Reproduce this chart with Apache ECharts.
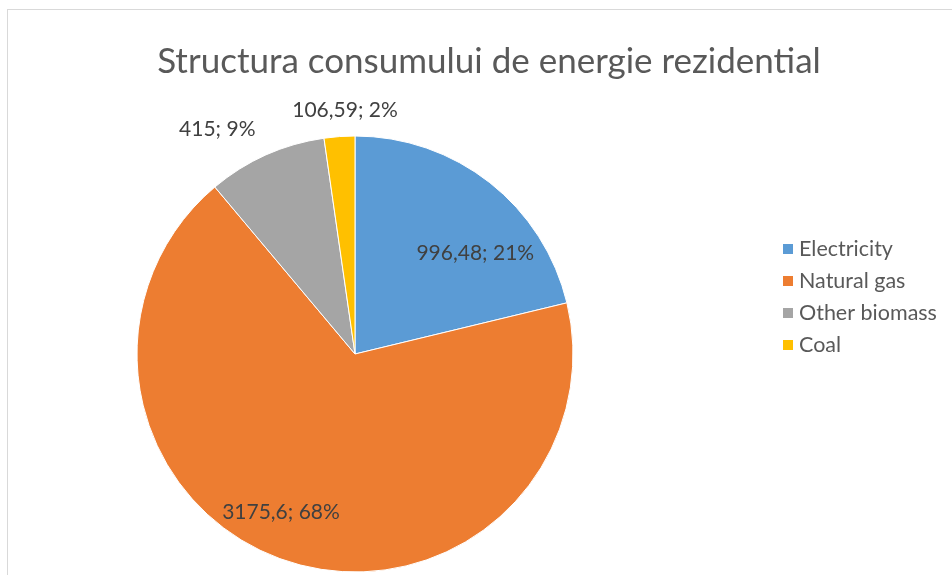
<!DOCTYPE html>
<html lang="en">
<head>
    <meta charset="UTF-8">
    <title>Structura consumului de energie rezidential</title>
    <script src="https://cdn.jsdelivr.net/npm/echarts@6/dist/echarts.min.js"></script>
    <style>
        body { margin: 0; background: #fff; }
        #frame { position: absolute; left: 7px; top: 9px; width: 1000px; height: 700px; border: 1px solid #d9d9d9; box-sizing: border-box; }
        #main { position: absolute; left: 0; top: 0; width: 952px; height: 575px; }
    </style>
</head>
<body>
    <div id="frame"></div>
    <div id="main"></div>
    <script type="text/javascript">
        var categories = ['Electricity', 'Natural gas', 'Other biomass', 'Coal'];
        var values = [996.48, 3175.6, 415, 106.59];
        var colors = ['#5B9BD5', '#ED7D31', '#A5A5A5', '#FFC000'];
        // nudges so labels sit where Excel put them
        var labelOffsets = [[51, -13], [-39, 52], [-92, -123], [-2, -132]];

        var myChart = echarts.init(document.getElementById('main'));
        var font = 'Lato, "Open Sans", sans-serif';

        var pieData = categories.map(function (name, i) {
            return {
                name: name,
                value: values[i],
                itemStyle: { color: colors[i] },
                label: { offset: labelOffsets[i] }
            };
        });

        var option = {
            animation: false,
            title: {
                text: 'Structura consumului de energie rezidential',
                left: 484,
                textAlign: 'center',
                top: 39,
                textStyle: { fontFamily: font, fontSize: 35, fontWeight: 'normal', color: '#595959' }
            },
            legend: {
                orient: 'vertical',
                left: 776,
                top: 233,
                itemWidth: 12,
                itemHeight: 12,
                itemGap: 10,
                icon: 'rect',
                data: categories,
                textStyle: { fontFamily: font, fontSize: 21.5, color: '#595959', lineHeight: 21 }
            },
            series: [
                {
                    name: 'Consum',
                    type: 'pie',
                    center: [355, 354],
                    radius: 218,
                    startAngle: 90,
                    clockwise: true,
                    data: pieData,
                    itemStyle: { borderColor: '#fff', borderWidth: 1 },
                    label: {
                        position: 'inside',
                        fontFamily: font,
                        fontSize: 21,
                        color: '#404040',
                        formatter: function (p) {
                            return String(p.value).replace('.', ',') + '; ' + Math.round(p.percent) + '%';
                        }
                    },
                    labelLine: { show: false },
                    emphasis: { disabled: true }
                }
            ]
        };
        myChart.setOption(option);
    </script>
</body>
</html>
